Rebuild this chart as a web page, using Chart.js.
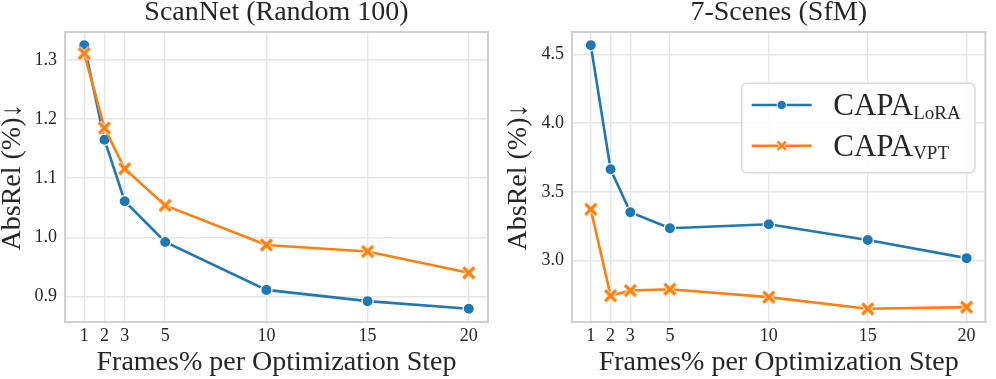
<!DOCTYPE html>
<html>
<head>
<meta charset="utf-8">
<script src="https://cdn.jsdelivr.net/npm/chart.js"></script>
<style>
    html, body { margin: 0; padding: 0; background: #fff; }
    #wrap { position: relative; width: 996px; height: 379px; }
    .panel { position: absolute; top: 0; height: 379px; }
</style>
</head>
<body>
<div id="wrap">
    <div class="panel" style="left:0;width:500px"><canvas id="scannet-chart" width="500" height="379"></canvas></div>
    <div class="panel" style="left:500px;width:496px"><canvas id="scenes-chart" width="496" height="379"></canvas></div>
</div>
<script>
// Data
const frames = [1, 2, 3, 5, 10, 15, 20];
const scannetLora = [1.325, 1.165, 1.061, 0.992, 0.911, 0.892, 0.879];
const scannetVpt = [1.311, 1.185, 1.116, 1.054, 0.987, 0.976, 0.940];
const scenesLora = [4.568, 3.664, 3.351, 3.235, 3.264, 3.149, 3.017];
const scenesVpt = [3.373, 2.744, 2.781, 2.791, 2.733, 2.648, 2.660];
const scannetYTicks = [0.9, 1.0, 1.1, 1.2, 1.3];
const scenesYTicks = [3.0, 3.5, 4.0, 4.5];
const seriesNames = [['CAPA', 'LoRA'], ['CAPA', 'VPT']];

const BLUE = '#1f77b4';
const ORANGE = '#ff7f0e';
const TEXT = '#262626';
const SERIF = "'Liberation Serif', 'DejaVu Serif', serif";

// Filled "X" marker with a white edge, like matplotlib's 'X'
function makeCrossMarker(size, width) {
    const c = document.createElement('canvas');
    c.width = size; c.height = size;
    const g = c.getContext('2d');
    const m = size / 2, r = size / 2 - 2.5;
    const path = () => {
        g.beginPath();
        g.moveTo(m - r, m - r); g.lineTo(m + r, m + r);
        g.moveTo(m + r, m - r); g.lineTo(m - r, m + r);
    };
    g.lineCap = 'butt';
    g.strokeStyle = '#fff'; g.lineWidth = width + 1.6; path(); g.stroke();
    g.strokeStyle = ORANGE; g.lineWidth = width; path(); g.stroke();
    return c;
}
const crossMarker = makeCrossMarker(16, 3.2);

function paddedRange(arrays) {
    const all = [].concat(...arrays);
    const lo = Math.min(...all), hi = Math.max(...all);
    const pad = (hi - lo) * 0.05;
    return { min: lo - pad, max: hi + pad };
}

// Box around the plotting area (all four sides)
const framePlugin = {
    id: 'frame',
    beforeDatasetsDraw(chart) {
        const a = chart.chartArea, ctx = chart.ctx;
        ctx.save();
        ctx.strokeStyle = '#d0d0d0';
        ctx.lineWidth = 2;
        ctx.strokeRect(a.left, a.top, a.right - a.left, a.bottom - a.top);
        ctx.restore();
    }
};

// Legend with subscripts, drawn on the 7-Scenes panel
const subLegendPlugin = {
    id: 'subLegend',
    afterDraw(chart) {
        const ctx = chart.ctx;
        const box = { x: 241.7, y: 83.3, w: 233.3, h: 89.4 };
        ctx.save();
        ctx.beginPath();
        ctx.roundRect(box.x, box.y, box.w, box.h, 5);
        ctx.fillStyle = 'rgba(255,255,255,0.85)';
        ctx.fill();
        ctx.strokeStyle = '#d9d9d9';
        ctx.lineWidth = 1.5;
        ctx.stroke();

        const rows = [105, 145.7];
        const styles = [
            { color: BLUE, marker: 'circle' },
            { color: ORANGE, marker: 'cross' }
        ];
        rows.forEach((y, i) => {
            const st = styles[i];
            ctx.strokeStyle = st.color;
            ctx.lineWidth = 2.6;
            ctx.beginPath();
            ctx.moveTo(251.7, y); ctx.lineTo(311.7, y);
            ctx.stroke();
            if (st.marker === 'circle') {
                ctx.beginPath();
                ctx.arc(281.7, y, 4.6, 0, Math.PI * 2);
                ctx.fillStyle = BLUE; ctx.fill();
                ctx.strokeStyle = '#fff'; ctx.lineWidth = 0.8; ctx.stroke();
            } else {
                ctx.drawImage(crossMarker, 281.7 - 6, y - 6, 12, 12);
            }
            ctx.fillStyle = TEXT;
            ctx.textBaseline = 'alphabetic';
            ctx.textAlign = 'left';
            ctx.font = '31px ' + SERIF;
            const main = seriesNames[i][0];
            ctx.fillText(main, 333.3, y + 10);
            const w = ctx.measureText(main).width;
            ctx.font = '19px ' + SERIF;
            ctx.fillText(seriesNames[i][1], 333.3 + w, y + 13.5);
        });
        ctx.restore();
    }
};

function buildChart(canvasId, opts) {
    const range = paddedRange([opts.lora, opts.vpt]);
    const xRange = paddedRange([frames]);
    const toPoints = arr => frames.map((f, i) => ({ x: f, y: arr[i] }));
    const tickFont = { family: SERIF, size: 18 };

    return new Chart(document.getElementById(canvasId), {
        type: 'line',
        data: {
            datasets: [{
                label: seriesNames[0].join(''),
                data: toPoints(opts.lora),
                borderColor: BLUE,
                backgroundColor: BLUE,
                borderWidth: 2.6,
                pointStyle: 'circle',
                pointRadius: 5.6,
                pointBorderColor: '#fff',
                pointBorderWidth: 1.2,
                pointBackgroundColor: BLUE,
                tension: 0,
                order: 1
            }, {
                label: seriesNames[1].join(''),
                data: toPoints(opts.vpt),
                borderColor: ORANGE,
                backgroundColor: ORANGE,
                borderWidth: 2.6,
                pointStyle: crossMarker,
                pointRadius: 8,
                tension: 0,
                order: 0
            }]
        },
        options: {
            responsive: false,
            animation: false,
            events: [],
            devicePixelRatio: 1,
            layout: { padding: { left: 0, right: opts.rightPad, top: 0, bottom: 0 } },
            plugins: {
                legend: { display: false },
                tooltip: { enabled: false },
                title: {
                    display: true,
                    text: opts.title,
                    color: TEXT,
                    fullSize: false,
                    font: { family: SERIF, size: 28, weight: 'normal', lineHeight: 1 },
                    padding: { top: -1.75, bottom: 5.75 }
                }
            },
            scales: {
                x: {
                    type: 'linear',
                    min: xRange.min,
                    max: xRange.max,
                    afterBuildTicks: s => { s.ticks = frames.map(v => ({ value: v })); },
                    afterFit: s => { s.height = 57; },
                    grid: { color: '#e6e6e6', lineWidth: 1.4, drawTicks: false },
                    border: { display: false },
                    ticks: {
                        color: TEXT, font: tickFont, padding: 3.7, maxRotation: 0,
                        callback: v => String(v)
                    },
                    title: {
                        display: true,
                        text: 'Frames% per Optimization Step',
                        color: TEXT,
                        font: { family: SERIF, size: 28, lineHeight: 1 },
                        padding: { top: 0, bottom: 2.7 }
                    }
                },
                y: {
                    min: range.min,
                    max: range.max,
                    afterBuildTicks: s => { s.ticks = opts.yTicks.map(v => ({ value: v })); },
                    afterFit: s => { s.width = opts.yWidth; },
                    grid: { color: '#e6e6e6', lineWidth: 1.4, drawTicks: false },
                    border: { display: false },
                    ticks: {
                        color: TEXT, font: tickFont, padding: 8,
                        callback: v => v.toFixed(1)
                    },
                    title: {
                        display: true,
                        text: 'AbsRel (%)↓',
                        color: TEXT,
                        font: { family: SERIF, size: 28, lineHeight: 1 },
                        padding: { top: opts.yTitlePad, bottom: 0 }
                    }
                }
            }
        },
        plugins: opts.legend ? [framePlugin, subLegendPlugin] : [framePlugin]
    });
}

buildChart('scannet-chart', {
    title: 'ScanNet (Random 100)',
    lora: scannetLora,
    vpt: scannetVpt,
    yTicks: scannetYTicks,
    yWidth: 65,
    rightPad: 12,
    yTitlePad: -1.5,
    legend: false
});

buildChart('scenes-chart', {
    title: '7-Scenes (SfM)',
    lora: scenesLora,
    vpt: scenesVpt,
    yTicks: scenesYTicks,
    yWidth: 72,
    rightPad: 2,
    yTitlePad: 5,
    legend: true
});
</script>
</body>
</html>
